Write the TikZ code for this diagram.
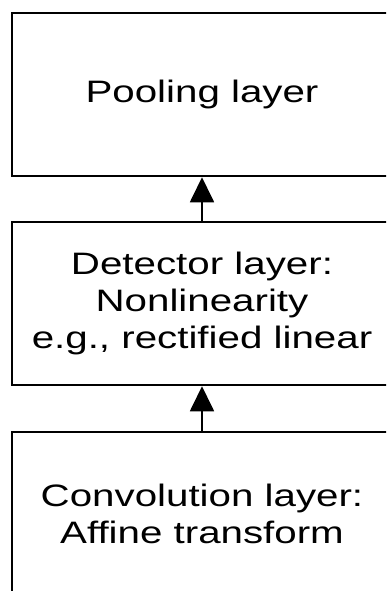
\documentclass[tikz,border=0pt]{standalone}
\usepackage{fontspec}
\newfontfamily\layerfont[FakeStretch=1.3]{Liberation Sans}
\usetikzlibrary{arrows.meta}
\tikzset{
  layer/.style={shape=rectangle, draw=black, line width=2.5pt, minimum width=380pt, minimum height=163pt, align=center, inner sep=0pt, font={\layerfont\fontsize{31}{37}\selectfont}},
  uparrow/.style={-{Triangle[width=24pt,length=25pt]}, line width=1.8pt, draw=black}
}
\begin{document}
\begin{tikzpicture}[x=1pt, y=-1pt]
\path[use as bounding box, clip] (0,0) rectangle (386,591);
\node[layer] (pool) at (202, 94.5) {Pooling layer};
\node[layer] (detect) at (202, 303.5) {Detector layer:\\Nonlinearity\\e.g., rectified linear};
\node[layer] (conv) at (202, 513.5) {Convolution layer:\\Affine transform};
\path [uparrow] (detect) edge (pool);
\path [uparrow] (conv) edge (detect);
\end{tikzpicture}
\end{document}
